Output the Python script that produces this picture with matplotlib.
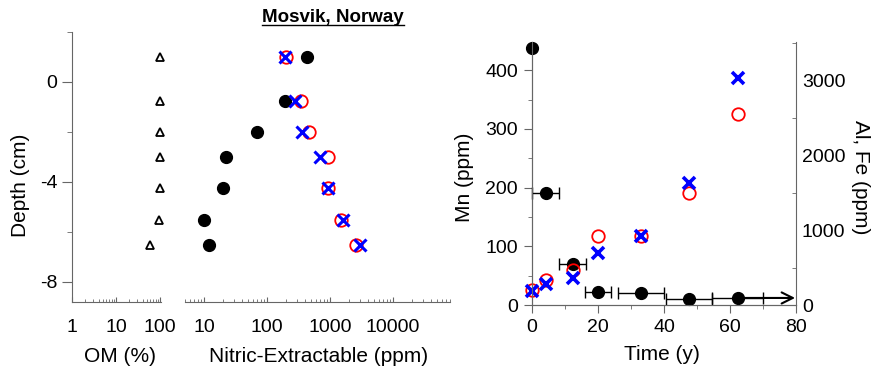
import matplotlib
matplotlib.use('Agg')
import matplotlib.pyplot as plt
from matplotlib.ticker import FixedLocator, NullFormatter, LogLocator
from matplotlib.lines import Line2D

plt.rcParams['font.family'] = ['Liberation Sans', 'DejaVu Sans']
plt.rcParams['axes.unicode_minus'] = False

# sample data (same 7 samples, surface first)
depth = [1.0, -0.75, -2.0, -3.0, -4.25, -5.5, -6.5]
om_pct = [100, 100, 100, 100, 100, 95, 59]
time_y = [0, 4.2, 12.4, 20, 33, 47.5, 62.2]
time_err = [0, 4.2, 4.0, 4.0, 7.0, 7.0, 7.8]
mn_ppm = [437, 190, 70, 22, 20, 10, 12]
fe_ppm = [200, 340, 470, 915, 925, 1500, 2550]
al_ppm = [190, 280, 365, 690, 920, 1630, 3030]

W, H = 872, 367
SPINE = '#666666'
TICK_FS = 14
LAB_FS = 15


def box(x0, y0, x1, y1):
    # pixel box -> figure fraction
    return [x0 / W, 1 - y1 / H, (x1 - x0) / W, (y1 - y0) / H]


def ftext(x, y, s, **kw):
    fig.text(x / W, 1 - y / H, s, ha='center', va='center', fontsize=LAB_FS, **kw)


fig = plt.figure(figsize=(W / 100, H / 100), dpi=100)

# ---- left: OM axis + nitric axis sharing depth
ax_om = fig.add_axes(box(72, 32, 161, 302))
ax_nit = fig.add_axes(box(185, 32, 450, 302))
for ax in (ax_om, ax_nit):
    ax.set_ylim(-8.8, 2.0)
    ax.set_xscale('log')
    ax.patch.set_visible(False)
    for s in ('top', 'right'):
        ax.spines[s].set_visible(False)
    ax.spines['bottom'].set_color(SPINE)
    ax.tick_params(axis='x', which='major', direction='in', length=3.5, color=SPINE,
                   labelsize=TICK_FS, pad=12.5)
    ax.tick_params(axis='x', which='minor', direction='in', length=2, color=SPINE)

ax_om.set_xlim(1, 105)
ax_om.spines['left'].set_color(SPINE)
ax_om.yaxis.set_major_locator(FixedLocator([0, -4, -8]))
ax_om.yaxis.set_minor_locator(FixedLocator([2, -2, -6]))
ax_om.set_yticklabels(['0', '-4', '-8'])
ax_om.tick_params(axis='y', which='major', direction='out', length=7, color=SPINE,
                  labelsize=TICK_FS, pad=3.5)
ax_om.tick_params(axis='y', which='minor', direction='out', length=3.5, color=SPINE)
ax_om.xaxis.set_major_locator(FixedLocator([1, 10, 100]))
ax_om.xaxis.set_minor_locator(LogLocator(base=10, subs=range(2, 10)))
ax_om.set_xticklabels(['1', '10', '100'])
ax_om.xaxis.set_minor_formatter(NullFormatter())
ax_om.plot(om_pct, depth, '^', ms=5.5, mfc='none', mec='black', mew=1.3, clip_on=False)

ax_nit.set_xlim(5, 80000)
ax_nit.spines['left'].set_visible(False)
ax_nit.set_yticks([])
ax_nit.xaxis.set_major_locator(FixedLocator([10, 100, 1000, 10000]))
ax_nit.xaxis.set_minor_locator(LogLocator(base=10, subs=range(2, 10), numticks=20))
ax_nit.set_xticklabels(['10', '100', '1000', '10000'])
ax_nit.xaxis.set_minor_formatter(NullFormatter())
ax_nit.plot(mn_ppm, depth, 'o', ms=8.5, color='black', clip_on=False)
ax_nit.plot(fe_ppm, depth, 'o', ms=9, mfc='none', mec='red', mew=1.3, clip_on=False)
ax_nit.plot(al_ppm, depth, 'x', ms=8, color='blue', mew=2.2, clip_on=False)

ftext(21, 185, 'Depth (cm)', rotation=90)
ftext(120, 357, 'OM (%)')
ftext(319, 357, 'Nitric-Extractable (ppm)')

title = fig.text(333 / W, 1 - 18 / H, 'Mosvik, Norway', ha='center', va='center',
                 fontsize=13.5, fontweight='bold')

# ---- right: time series
ax_t = fig.add_axes(box(531.7, 42, 796.4, 305))
ax_r = ax_t.twinx()
ax_t.set_xlim(0, 80)
ax_t.set_ylim(0, 448)
ax_r.set_ylim(0, 3510)
for ax in (ax_t, ax_r):
    ax.spines['top'].set_visible(False)
    for s in ('left', 'right', 'bottom'):
        ax.spines[s].set_color(SPINE)
ax_t.spines['right'].set_visible(False)

ax_t.xaxis.set_major_locator(FixedLocator([0, 20, 40, 60, 80]))
ax_t.xaxis.set_minor_locator(FixedLocator([10, 30, 50, 70]))
ax_t.yaxis.set_major_locator(FixedLocator([0, 100, 200, 300, 400]))
ax_t.yaxis.set_minor_locator(FixedLocator([50, 150, 250, 350]))
ax_t.tick_params(which='major', direction='out', length=5.8, color=SPINE,
                 labelsize=TICK_FS, pad=4)
ax_t.tick_params(which='minor', direction='out', length=3, color=SPINE)

ax_r.yaxis.set_major_locator(FixedLocator([0, 1000, 2000, 3000]))
ax_r.yaxis.set_minor_locator(FixedLocator([500, 1500, 2500, 3500]))
ax_r.tick_params(which='major', length=0, labelsize=TICK_FS, pad=4)
ax_r.tick_params(which='minor', direction='in', length=3, color=SPINE)

ax_t.errorbar(time_y, mn_ppm, xerr=time_err, fmt='o', ms=8.5, color='black',
              ecolor='black', elinewidth=1, capsize=4.3, capthick=1, clip_on=False, zorder=3)
ax_t.annotate('', xy=(79.6, mn_ppm[-1]), xytext=(time_y[-1], mn_ppm[-1]),
              arrowprops=dict(arrowstyle='->', color='black', lw=1.5,
                              mutation_scale=20, shrinkA=0, shrinkB=0))
ax_r.plot(time_y, fe_ppm, 'o', ms=9, mfc='none', mec='red', mew=1.3, clip_on=False)
ax_r.plot(time_y, al_ppm, 'x', ms=8, color='blue', mew=2.6, clip_on=False)

ftext(464, 177, 'Mn (ppm)', rotation=90)
ftext(860, 177, 'Al, Fe (ppm)', rotation=270)
ftext(662, 355, 'Time (y)')

# underline the title
fig.canvas.draw()
bb = title.get_window_extent().transformed(fig.transFigure.inverted())
fig.add_artist(Line2D([bb.x0, bb.x1], [bb.y0 + 0.004, bb.y0 + 0.004],
                      transform=fig.transFigure, color='black', lw=1))

fig.savefig('out.png', dpi=100)
